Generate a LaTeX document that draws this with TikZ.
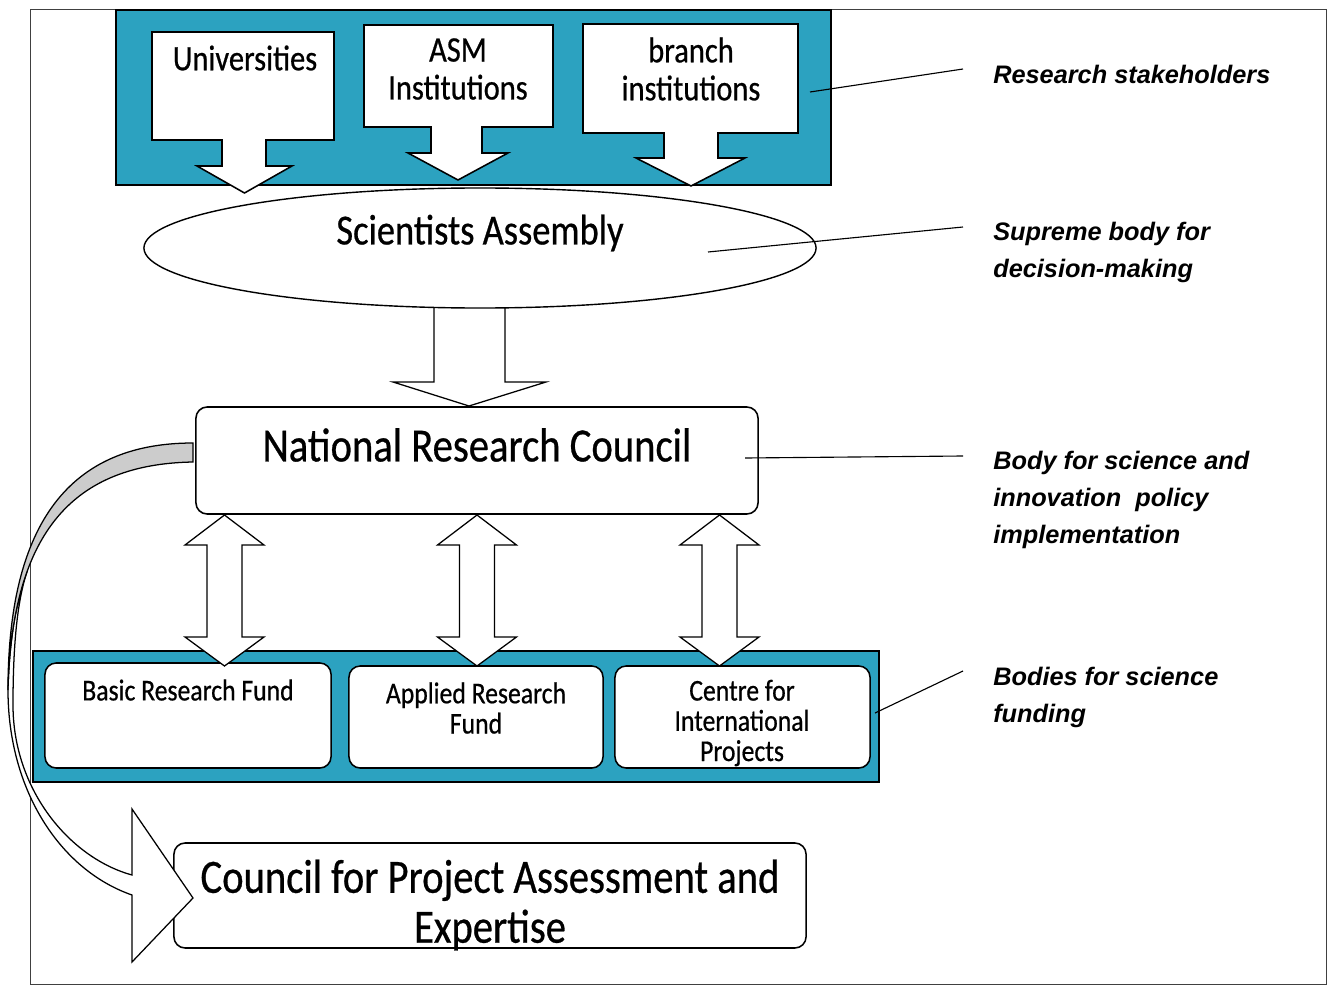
\documentclass[tikz,border=0pt]{standalone}
\usepackage{fontspec}
\newfontfamily\boxfont[FakeStretch=0.85, FakeBold=0.6]{Carlito}
\newfontfamily\notefont{Liberation Sans}
\usepackage{tikz}
\usetikzlibrary{shapes.geometric, positioning, calc}
\definecolor{fundteal}{RGB}{44,162,192}
\definecolor{backgrey}{RGB}{204,204,204}
\tikzset{%
  outerframe/.style={draw=black!75, line width=0.6pt},
  panel/.style={rectangle, draw, fill=fundteal, line width=1.3pt, inner sep=0pt},
  callout/.style={draw, fill=white, line width=1.1pt},
  roundblock/.style={rectangle, draw, fill=white, rounded corners=8pt, line width=1.1pt, inner sep=0pt},
  assembly/.style={ellipse, draw, fill=white, line width=1pt, inner sep=0pt},
  blockarrow/.style={draw, fill=white, line width=0.9pt},
  backband/.style={draw, fill=backgrey, line width=0.9pt},
  smalltext/.style={font=\boxfont\fontsize{21.5}{21.5}\selectfont, align=center, inner sep=0pt},
  mediumtext/.style={font=\boxfont\fontsize{25.5}{27}\selectfont, align=center, inner sep=0pt},
  bigtext/.style={font=\boxfont\fontsize{34}{35.5}\selectfont, align=center, inner sep=0pt},
  note/.style={font=\notefont\bfseries\itshape\fontsize{18}{26.3}\selectfont, align=left, anchor=north west, inner sep=0pt},
  leader/.style={draw, line width=0.8pt}}

\begin{document}
\begin{tikzpicture}[x=0.025cm, y=-0.025cm]
    \useasboundingbox (0,0) rectangle (1328,985);
    \draw[outerframe] (30,9) rectangle (1326,984);
    % Research stakeholders
    \node (stakeholders) [panel, minimum width=17.875cm, minimum height=4.375cm] at (473.5,97.5) {};
    % Arrow into the National Research Council
    \draw[blockarrow] (434,300) -- (505,300) -- (505,382) -- (546,382) -- (469,406) -- (393,382) -- (434,382) -- cycle;
    % Scientists Assembly
    \node (assembly) [assembly, minimum width=16.8cm, minimum height=3cm] at (480,248) {};
    \node (assembly-text) [font=\boxfont\fontsize{30.5}{32}\selectfont, inner sep=0pt] at (480,233) {Scientists Assembly};
    % Down arrow callouts
    \draw[callout] (152,32) -- (334,32) -- (334,140) -- (266,140) -- (266,166) -- (292,166) -- (244.5,193) -- (197,166) -- (222,166) -- (222,140) -- (152,140) -- cycle;
    \draw[callout] (364,25) -- (553,25) -- (553,127) -- (482,127) -- (482,153) -- (508,153) -- (458,180) -- (408,153) -- (431,153) -- (431,127) -- (364,127) -- cycle;
    \draw[callout] (583,24) -- (798,24) -- (798,133) -- (718,133) -- (718,158) -- (745,158) -- (691,186) -- (636,158) -- (664,158) -- (664,133) -- (583,133) -- cycle;
    \node (univ) [mediumtext] at (245,58) {Universities};
    \node (asm) [mediumtext] at (458,69) {ASM\\Institutions};
    \node (branch) [mediumtext] at (691,69) {branch\\institutions};
    % Bodies for science funding
    \node (funding) [panel, minimum width=21.15cm, minimum height=3.275cm] at (456,716.5) {};
    \node (basic) [roundblock, minimum width=7.15cm, minimum height=2.625cm] at (188,715.5) {};
    \node (applied) [roundblock, minimum width=6.35cm, minimum height=2.55cm] at (476,717) {};
    \node (centre) [roundblock, minimum width=6.375cm, minimum height=2.55cm] at (742.5,717) {};
    \node (basic-text) [smalltext] at (188,690) {Basic Research Fund};
    \node (applied-text) [smalltext] at (476,708) {Applied Research\\Fund};
    \node (centre-text) [smalltext] at (742,723) {Centre for\\International\\Projects};
    % National Research Council
    \node (nrc) [roundblock, minimum width=14.05cm, minimum height=2.675cm] at (477,460.5) {};
    \node (nrc-text) [bigtext] at (477,445) {National Research Council};
    % Two way arrows
    \foreach \x in {224.5, 477, 719.5}
      \draw[blockarrow] (\x,515) -- (\x+39.5,545) -- (\x+17.5,545) -- (\x+17.5,637) -- (\x+39.5,637) -- (\x,666)
        -- (\x-39.5,637) -- (\x-17.5,637) -- (\x-17.5,545) -- (\x-39.5,545) -- cycle;
    % Council for Project Assessment and Expertise
    \node (council) [roundblock, minimum width=15.8cm, minimum height=2.625cm] at (490,895.5) {};
    \node (council-text) [bigtext] at (490,905) {Council for Project Assessment and\\Expertise};
    % Curved arrow, front and back
    \path[blockarrow] (8,690) .. controls (8,790) and (60,870) .. (132,895) -- (132,962) -- (193,898) -- (132,809) -- (132,875)
      .. controls (70,858) and (13,790) .. (13,705) .. controls (13,640) and (18,598) .. (27.4,570.6)
      .. controls (15.7,602.5) and (9.2,642) .. (8,690) -- cycle;
    \path[backband] (193,443) .. controls (80,443) and (8,510) .. (8,690)
      .. controls (12,530) and (75,464) .. (193,462) -- cycle;
    % Notes
    \node (stake-note) [note] at (993,65) {Research stakeholders};
    \node (supreme-note) [note] at (993,222) {Supreme body for\\decision-making};
    \node (policy-note) [note] at (993,451) {Body for science and\\innovation\ \ policy\\implementation};
    \node (funding-note) [note] at (993,667) {Bodies for science\\funding};
    \coordinate (stake-pin) at (810,92);
    \coordinate (assembly-pin) at (708,252);
    \coordinate (nrc-pin) at (745,458);
    \coordinate (funding-pin) at (875,713);
    \draw[leader] ($(stake-note.north west)+(-30,4)$) -- (stake-pin);
    \draw[leader] ($(supreme-note.north west)+(-30,5)$) -- (assembly-pin);
    \draw[leader] ($(policy-note.north west)+(-30,5)$) -- (nrc-pin);
    \draw[leader] ($(funding-note.north west)+(-30,4)$) -- (funding-pin);
\end{tikzpicture}
\end{document}
